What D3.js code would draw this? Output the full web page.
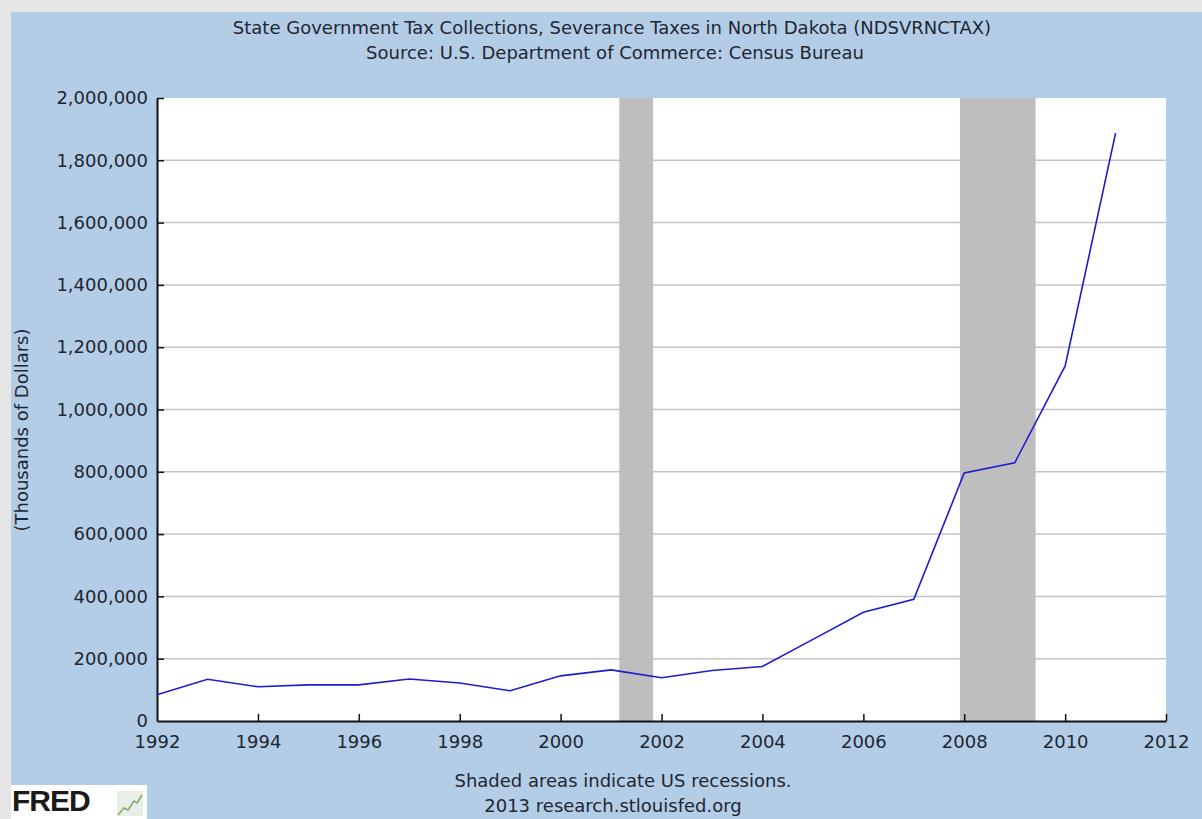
<!DOCTYPE html>
<html>
<head>
<meta charset="utf-8">
<script src="https://cdn.jsdelivr.net/npm/d3@7"></script>
<style>
  html, body { margin: 0; padding: 0; background: #e6e6e6; }
  svg { display: block; }
</style>
</head>
<body>
<div id="chart"></div>
<script>
const years = [1992, 1993, 1994, 1995, 1996, 1997, 1998, 1999, 2000, 2001,
  2002, 2003, 2004, 2005, 2006, 2007, 2008, 2009, 2010, 2011];
const values = [84000, 134000, 110000, 116000, 116000, 135000, 122000, 97000, 145000, 164000,
  139000, 162000, 175000, 262000, 349000, 391000, 796000, 829000, 1140000, 1887000];
const recessionStarts = ['2001-03-01', '2007-12-01'];
const recessionEnds = ['2001-11-01', '2009-06-01'];
const yTicks = [0, 200000, 400000, 600000, 800000, 1000000, 1200000, 1400000, 1600000, 1800000, 2000000];
const xTickYears = [1992, 1994, 1996, 1998, 2000, 2002, 2004, 2006, 2008, 2010, 2012];

const titleText = 'State Government Tax Collections, Severance Taxes in North Dakota (NDSVRNCTAX)';
const sourceText = 'Source: U.S. Department of Commerce: Census Bureau';
const yLabelText = '(Thousands of Dollars)';
const noteText = 'Shaded areas indicate US recessions.';
const creditText = '2013 research.stlouisfed.org';

const width = 1202;
const height = 819;
const margin = { top: 98, right: 36, bottom: 98, left: 157 };
const font = 'DejaVu Sans, Verdana, sans-serif';
const textColor = '#1e2633';

const parseDate = d3.timeParse('%Y-%m-%d');
const yearDate = (y) => new Date(y, 0, 1);

const svg = d3.select('#chart')
  .append('svg')
  .attr('width', width)
  .attr('height', height);

// blue panel behind everything
svg.append('rect')
  .attr('x', 11)
  .attr('y', 12)
  .attr('width', width - 11)
  .attr('height', height - 12)
  .attr('fill', '#b4cde6');

const x = d3.scaleTime()
  .domain([yearDate(1992), yearDate(2012)])
  .range([margin.left, width - margin.right]);

const y = d3.scaleLinear()
  .domain([0, 2000000])
  .range([height - margin.bottom, margin.top]);

const plotW = x.range()[1] - x.range()[0];
const plotH = y.range()[0] - y.range()[1];

svg.append('rect')
  .attr('x', margin.left)
  .attr('y', margin.top)
  .attr('width', plotW)
  .attr('height', plotH)
  .attr('fill', '#ffffff');

// grid
svg.append('g')
  .selectAll('line')
  .data(yTicks.filter((d) => d > 0 && d < 2000000))
  .enter()
  .append('line')
  .attr('x1', margin.left)
  .attr('x2', margin.left + plotW)
  .attr('y1', (d) => y(d))
  .attr('y2', (d) => y(d))
  .attr('stroke', '#c4c4c4')
  .attr('stroke-width', 1.5);

// recessions
svg.append('g')
  .selectAll('rect')
  .data(recessionStarts.map((s, i) => [parseDate(s), parseDate(recessionEnds[i])]))
  .enter()
  .append('rect')
  .attr('x', (d) => x(d[0]))
  .attr('width', (d) => x(d[1]) - x(d[0]))
  .attr('y', margin.top)
  .attr('height', plotH)
  .attr('fill', '#bebebe');

// axes
const xAxis = d3.axisBottom(x)
  .tickValues(xTickYears.map(yearDate))
  .tickFormat(d3.timeFormat('%Y'))
  .tickSizeInner(-7)
  .tickSizeOuter(0)
  .tickPadding(14);

const yAxis = d3.axisLeft(y)
  .tickValues(yTicks)
  .tickFormat(d3.format(','))
  .tickSizeInner(-7)
  .tickSizeOuter(0)
  .tickPadding(9);

const gx = svg.append('g')
  .attr('transform', `translate(0,${y(0)})`)
  .call(xAxis);

const gy = svg.append('g')
  .attr('transform', `translate(${margin.left},0)`)
  .call(yAxis);

[gx, gy].forEach((g) => {
  g.select('.domain').attr('stroke', '#111').attr('stroke-width', 2);
  g.selectAll('.tick line').attr('stroke', '#111').attr('stroke-width', 1.5);
  g.selectAll('.tick text')
    .attr('fill', textColor)
    .style('font-family', font)
    .style('font-size', '18px');
});
gy.selectAll('.tick line').filter((d) => d === 0).remove();
gx.selectAll('.tick line').filter((d, i) => i === 0).remove();

// series
const line = d3.line()
  .x((d) => x(yearDate(d.year)))
  .y((d) => y(d.value));

svg.append('path')
  .datum(years.map((yr, i) => ({ year: yr, value: values[i] })))
  .attr('d', line)
  .attr('fill', 'none')
  .attr('stroke', '#1c1cd0')
  .attr('stroke-width', 1.6);

// texts
const addText = (txt, tx, ty, size, extra) => {
  const t = svg.append('text')
    .attr('x', tx)
    .attr('y', ty)
    .attr('text-anchor', 'middle')
    .attr('fill', textColor)
    .style('font-family', font)
    .style('font-size', `${size}px`)
    .text(txt);
  if (extra) extra(t);
  return t;
};

addText(titleText, 612, 34, 18);
addText(sourceText, 615, 59, 18);
addText(noteText, 623, 787, 18);
addText(creditText, 613, 812, 18);
addText(yLabelText, 0, 0, 18, (t) => t.attr('transform', 'translate(28,430) rotate(-90)'));

// FRED badge
const badge = svg.append('g');
badge.append('rect')
  .attr('x', 11)
  .attr('y', 785)
  .attr('width', 136)
  .attr('height', 34)
  .attr('fill', '#ffffff');
badge.append('text')
  .attr('x', 12)
  .attr('y', 811)
  .attr('fill', '#1a1a1a')
  .style('font-family', 'Liberation Sans, Arial, sans-serif')
  .style('font-weight', 'bold')
  .style('font-size', '30px')
  .style('letter-spacing', '-1px')
  .text('FRED');
badge.append('rect')
  .attr('x', 117)
  .attr('y', 791)
  .attr('width', 26)
  .attr('height', 25)
  .attr('fill', '#e9efe6');
badge.append('polyline')
  .attr('points', '118,815 124,808 128,810 134,801 137,803 142,795')
  .attr('fill', 'none')
  .attr('stroke', '#7ea86b')
  .attr('stroke-width', 1.5);
</script>
</body>
</html>
